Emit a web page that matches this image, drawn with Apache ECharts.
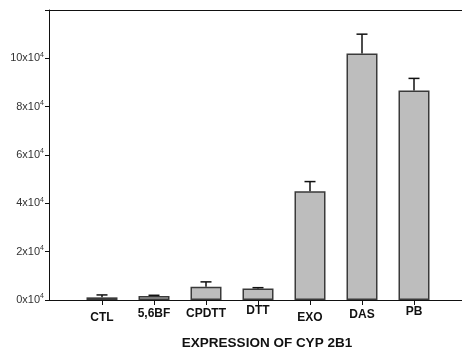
<!DOCTYPE html>
<html>
<head>
<meta charset="utf-8">
<script src="https://cdn.jsdelivr.net/npm/echarts@6/dist/echarts.min.js"></script>
<style>
  html, body { margin: 0; padding: 0; background: #fff; }
  #chart { width: 462px; height: 352px; }
</style>
</head>
<body>
<div id="chart"></div>
<script>
// Treatment groups and CYP 2B1 expression (units of 10^4), with SEM
const categories = ['CTL', '5,6BF', 'CPDTT', 'DTT', 'EXO', 'DAS', 'PB'];
const expression = [0.11, 0.165, 0.55, 0.48, 4.5, 10.2, 8.67];
const errors = [0.1, 0.03, 0.2, 0.03, 0.4, 0.8, 0.5];
const yTicks = [0, 2, 4, 6, 8, 10, 12];

// extra top padding per category label (staggered baselines)
const labelShift = [6.5, 3, 3, 0, 7, 4, 1];

const chart = echarts.init(document.getElementById('chart'), null, { renderer: 'canvas' });

const font = 'Liberation Sans, Arial, Helvetica, sans-serif';
const rich = {};
labelShift.forEach((s, i) => {
  rich['p' + i] = {
    fontFamily: font, fontWeight: 'bold', fontSize: 12, color: '#111',
    padding: [s, 0, 0, 0]
  };
});

const yMax = yTicks[yTicks.length - 1];

const option = {
  animation: false,
  backgroundColor: '#fff',
  grid: [
    { left: 49, right: 0, top: 10, height: 290 },
    { left: 76, right: 22, top: 10, height: 290 }
  ],
  xAxis: [
    {
      gridIndex: 0, type: 'value', min: 0, max: 1, position: 'bottom',
      axisLine: { show: true, lineStyle: { color: '#111', width: 1 } },
      axisTick: { show: false }, axisLabel: { show: false }, splitLine: { show: false }
    },
    {
      gridIndex: 0, type: 'value', min: 0, max: 1, position: 'top',
      axisLine: { show: true, lineStyle: { color: '#111', width: 1 } },
      axisTick: { show: false }, axisLabel: { show: false }, splitLine: { show: false }
    },
    {
      gridIndex: 1, type: 'category', data: categories, position: 'bottom',
      axisLine: { show: false },
      axisTick: { show: true, alignWithLabel: true, interval: 0, length: 5, lineStyle: { color: '#111' } },
      axisLabel: {
        margin: 5,
        interval: 0,
        hideOverlap: false,
        formatter: (v, i) => '{p' + i + '|' + v + '}',
        rich: rich
      }
    }
  ],
  yAxis: [
    {
      gridIndex: 0, type: 'value', min: 0, max: yMax, interval: 2,
      axisLine: { show: true, lineStyle: { color: '#111', width: 1 } },
      axisTick: { show: true, length: 4, lineStyle: { color: '#111' } },
      splitLine: { show: false },
      axisLabel: {
        margin: 5,
        formatter: v => (v === yMax ? '' : '{a|' + v + 'x10}{s|4}'),
        rich: {
          a: { fontFamily: font, fontSize: 11, color: '#333', lineHeight: 14 },
          s: { fontFamily: font, fontSize: 7, color: '#333', verticalAlign: 'top', lineHeight: 14, padding: [0, 0, 6, 0] }
        }
      }
    },
    {
      gridIndex: 1, type: 'value', min: 0, max: yMax, interval: 2, show: false
    }
  ],
  series: [
    {
      type: 'bar',
      xAxisIndex: 2, yAxisIndex: 1,
      data: expression,
      barWidth: 31,
      itemStyle: { color: '#bdbdbd', borderColor: '#3a3a3a', borderWidth: 1.5 }
    },
    {
      type: 'custom',
      xAxisIndex: 2, yAxisIndex: 1,
      data: expression.map((v, i) => [i, v, errors[i]]),
      renderItem: function (params, api) {
        const i = api.value(0);
        const base = api.coord([i, api.value(1)]);
        const top = api.coord([i, api.value(1) + api.value(2)]);
        const hw = 5.5;
        const style = { stroke: '#111', lineWidth: 1.5 };
        return {
          type: 'group',
          children: [
            { type: 'line', shape: { x1: base[0], y1: base[1], x2: top[0], y2: top[1] }, style: style },
            { type: 'line', shape: { x1: top[0] - hw, y1: top[1], x2: top[0] + hw, y2: top[1] }, style: style }
          ]
        };
      },
      z: 3
    }
  ],
  graphic: [
    {
      type: 'text', x: 267, y: 343,
      style: {
        text: 'EXPRESSION OF CYP 2B1',
        fontFamily: font, fontWeight: 'bold', fontSize: 13.5, fill: '#111',
        textAlign: 'center', textVerticalAlign: 'middle'
      }
    }
  ]
};

chart.setOption(option);
</script>
</body>
</html>
